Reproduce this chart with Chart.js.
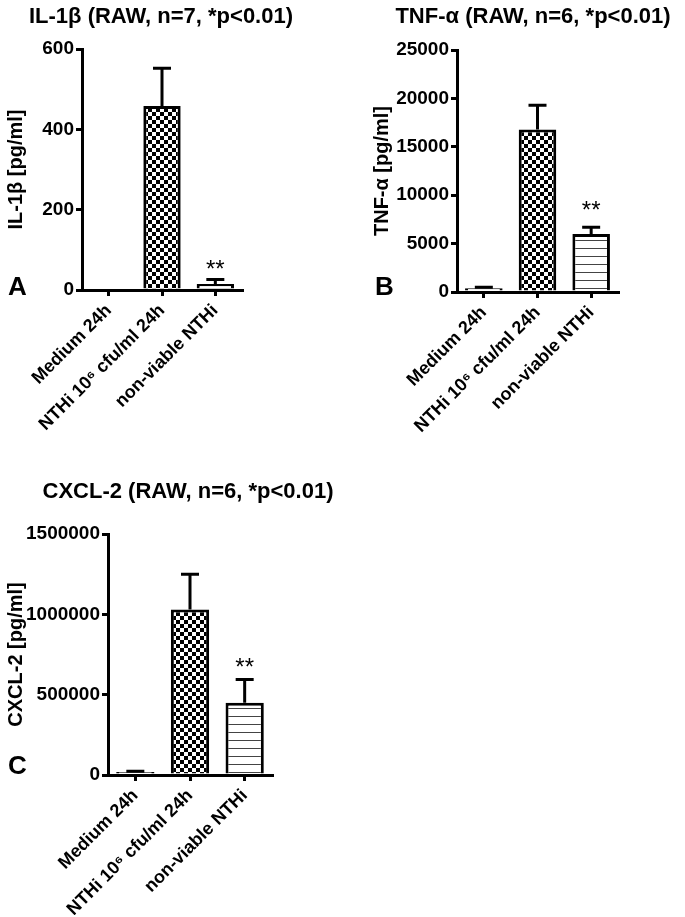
<!DOCTYPE html>
<html>
<head>
<meta charset="utf-8">
<script src="https://cdn.jsdelivr.net/npm/chart.js@4.4.0/dist/chart.umd.min.js"></script>
<style>
html,body{margin:0;padding:0;background:#fff;}
#wrap{position:relative;width:685px;height:917px;overflow:hidden;background:#fff;}
canvas{position:absolute;}
</style>
</head>
<body>
<div id="wrap">
<canvas id="cA" width="340" height="460" style="left:0px;top:0px"></canvas>
<canvas id="cB" width="345" height="460" style="left:340px;top:0px"></canvas>
<canvas id="cC" width="340" height="457" style="left:0px;top:460px"></canvas>
</div>
<script>
// ---------- data ----------
const categories = ['Medium 24h', 'NTHi 10\u2076 cfu/ml 24h', 'non-viable NTHi'];

const il1bMean = [0, 458, 15];
const il1bSem  = [0, 94, 11];
const il1bTicks = [0, 200, 400, 600];
const il1bMarks = ['', '', '**'];

const tnfMean = [400, 16800, 6000];
const tnfSem  = [80, 2500, 700];
const tnfTicks = [0, 5000, 10000, 15000, 20000, 25000];
const tnfMarks = ['', '', '**'];

const cxclMean = [18000, 1030000, 450000];
const cxclSem  = [6000, 220000, 145000];
const cxclTicks = [0, 500000, 1000000, 1500000];
const cxclMarks = ['', '', '**'];

// ---------- styling ----------
const FONT = '"Liberation Sans", Arial, Helvetica, sans-serif';

function checkerPattern() {
  const c = document.createElement('canvas');
  c.width = 8; c.height = 8;
  const g = c.getContext('2d');
  g.fillStyle = '#fff'; g.fillRect(0, 0, 8, 8);
  g.fillStyle = '#000';
  g.fillRect(0, 0, 4, 4); g.fillRect(4, 4, 4, 4);
  return g.createPattern(c, 'repeat');
}
function hlinePattern() {
  const c = document.createElement('canvas');
  c.width = 8; c.height = 8;
  const g = c.getContext('2d');
  g.fillStyle = '#fff'; g.fillRect(0, 0, 8, 8);
  g.fillStyle = '#444'; g.fillRect(0, 0, 8, 1);
  return g.createPattern(c, 'repeat');
}

const panelText = {
  id: 'panelText',
  afterDraw(chart, args, o) {
    const ctx = chart.ctx;
    ctx.save();
    ctx.fillStyle = '#000';
    ctx.font = 'bold 22px ' + FONT;
    ctx.textAlign = 'center';
    ctx.textBaseline = 'middle';
    ctx.fillText(o.title, o.titleX, o.titleY);
    ctx.font = 'bold 26px ' + FONT;
    ctx.textAlign = 'left';
    ctx.textBaseline = 'alphabetic';
    ctx.fillText(o.letter, o.letterX, o.letterY);
    ctx.restore();
  }
};

const errorBars = {
  id: 'errorBars',
  afterDatasetsDraw(chart, args, o) {
    const ctx = chart.ctx, ys = chart.scales.y;
    const meta = chart.getDatasetMeta(0);
    const vals = chart.data.datasets[0].data;
    ctx.save();
    ctx.strokeStyle = '#000';
    ctx.fillStyle = '#000';
    ctx.lineWidth = 3;
    meta.data.forEach((bar, i) => {
      const v = vals[i], e = o.errors[i];
      const yBar = ys.getPixelForValue(v);
      const yTop = ys.getPixelForValue(v + e);
      if (e > 0) {
        ctx.beginPath();
        ctx.moveTo(bar.x, yBar);
        ctx.lineTo(bar.x, yTop);
        ctx.moveTo(bar.x - o.capHalf, yTop);
        ctx.lineTo(bar.x + o.capHalf, yTop);
        ctx.stroke();
      }
      if (o.marks[i]) {
        ctx.font = '24px ' + FONT;
        ctx.textAlign = 'center';
        ctx.textBaseline = 'alphabetic';
        ctx.fillText(o.marks[i], bar.x, yTop - o.markGap);
      }
    });
    ctx.restore();
  }
};

function makeChart(id, means, errs, ticks, marks, yTitle, geo, text) {
  const fills = ['#fff', checkerPattern(), hlinePattern()];
  return new Chart(document.getElementById(id), {
    type: 'bar',
    data: {
      labels: categories,
      datasets: [{
        data: means,
        backgroundColor: fills,
        borderColor: '#000',
        borderWidth: 3,
        borderSkipped: 'start',
        barPercentage: 0.7,
        categoryPercentage: 1
      }]
    },
    options: {
      responsive: false,
      animation: false,
      devicePixelRatio: 1,
      layout: { padding: { left: 0, top: geo.top, right: geo.right, bottom: geo.bottom } },
      plugins: {
        legend: { display: false },
        tooltip: { enabled: false },
        title: { display: false },
        panelText: text,
        errorBars: { errors: errs, marks: marks, capHalf: 9, markGap: geo.markGap }
      },
      scales: {
        x: {
          grid: { display: true, drawOnChartArea: false, offset: false, color: '#000', lineWidth: 3, tickLength: 6 },
          border: { display: true, color: '#000', width: 3 },
          ticks: { color: '#000', font: { family: FONT, size: 18, weight: 'bold' }, minRotation: 45, maxRotation: 45, padding: 4, autoSkip: false },
          afterFit: s => { s.height = geo.xH; s.paddingLeft = 0; s.paddingRight = 0; }
        },
        y: {
          min: ticks[0],
          max: ticks[ticks.length - 1],
          afterBuildTicks: s => { s.ticks = ticks.map(v => ({ value: v })); },
          grid: { display: true, drawOnChartArea: false, color: '#000', lineWidth: 3, tickLength: 6 },
          border: { display: true, color: '#000', width: 3 },
          ticks: { color: '#000', font: { family: FONT, size: 19, weight: 'bold' }, padding: 2, callback: v => String(v) },
          title: { display: true, text: yTitle, color: '#000', font: { family: FONT, size: 20, weight: 'bold' }, padding: { top: geo.yTitlePad, bottom: 0 } },
          afterFit: s => { s.width = geo.yW; s.paddingTop = 0; s.paddingBottom = 0; }
        }
      }
    },
    plugins: [panelText, errorBars]
  });
}

makeChart('cA', il1bMean, il1bSem, il1bTicks, il1bMarks, 'IL-1\u03B2 [pg/ml]',
  { top: 49, right: 98, bottom: 10, xH: 160, yW: 82, yTitlePad: 4, markGap: 3 },
  { title: 'IL-1\u03B2 (RAW, n=7, *p<0.01)', titleX: 161, titleY: 17, letter: 'A', letterX: 8, letterY: 295 });

makeChart('cB', tnfMean, tnfSem, tnfTicks, tnfMarks, 'TNF-\u03B1 [pg/ml]',
  { top: 50, right: 67, bottom: 8, xH: 160, yW: 117, yTitlePad: 30, markGap: 9 },
  { title: 'TNF-\u03B1 (RAW, n=6, *p<0.01)', titleX: 193, titleY: 17, letter: 'B', letterX: 35, letterY: 295 });

makeChart('cC', cxclMean, cxclSem, cxclTicks, cxclMarks, 'CXCL-2 [pg/ml]',
  { top: 74, right: 68, bottom: 2, xH: 140, yW: 108, yTitlePad: 4, markGap: 4 },
  { title: 'CXCL-2 (RAW, n=6, *p<0.01)', titleX: 188, titleY: 32, letter: 'C', letterX: 8, letterY: 314 });
</script>
</body>
</html>
